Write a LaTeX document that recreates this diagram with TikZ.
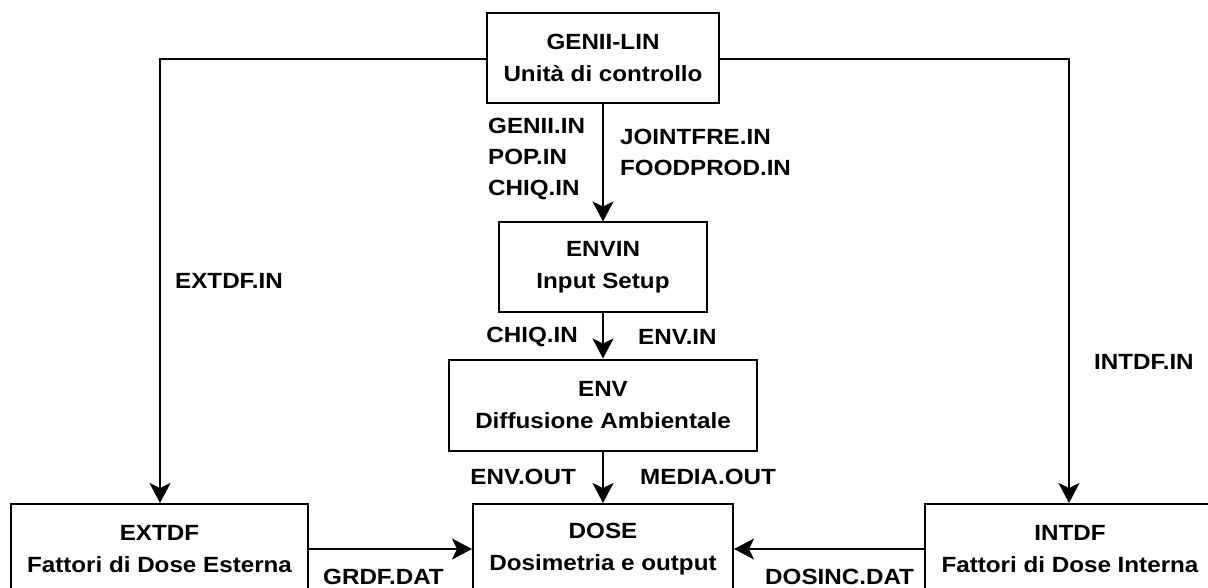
\documentclass[tikz,border=0pt]{standalone}
\usepackage{fontspec}
\setmainfont{Liberation Sans}[FakeStretch=1.1]
\usetikzlibrary{arrows.meta}
\begin{document}
\begin{tikzpicture}[x=1pt,y=-1pt,
  box/.style={draw, line width=2pt, rectangle, align=center, inner sep=0pt,
    font=\fontsize{22}{32}\selectfont\bfseries},
  lab/.style={inner sep=0pt, font=\fontsize{22}{31}\selectfont\bfseries},
  conn/.style={line width=2pt, -{Stealth[length=20pt,width=21pt,inset=5pt]}}]
\useasboundingbox (0,0) rectangle (1208,588);
\clip (0,0) rectangle (1208,588);
\fill[white] (0,0) rectangle (1208,588);
\node[box, minimum width=232pt, minimum height=90pt] (genii) at (603,58) {GENII-LIN\\Unità di controllo};
\node[box, minimum width=208pt, minimum height=89pt] (envin) at (603,267) {ENVIN\\Input Setup};
\node[box, minimum width=308pt, minimum height=91pt] (env) at (603,405) {ENV\\Diffusione Ambientale};
\node[box, minimum width=260pt, minimum height=90pt] (dose) at (603,549) {DOSE\\Dosimetria e output};
\node[box, minimum width=297pt, minimum height=90pt] (extdf) at (159.5,549) {EXTDF\\Fattori di Dose Esterna};
\node[box, minimum width=290pt, minimum height=90pt] (intdf) at (1070,549) {INTDF\\Fattori di Dose Interna};
\coordinate (cl) at (160,59);
\coordinate (cr) at (1069,59);
\draw[conn] (genii.west |- cl) -- (cl) -- (extdf.north -| cl);
\draw[conn] (genii.east |- cr) -- (cr) -- (intdf.north -| cr);
\draw[conn] (genii) -- (envin);
\draw[conn] (envin) -- (env);
\draw[conn] (env) -- (dose);
\draw[conn] (extdf.east) -- (dose.west);
\draw[conn] (intdf.west) -- (dose.east);
\node[lab, anchor=north west, align=left] (l1) at (488,118) {GENII.IN\\POP.IN\\CHIQ.IN};
\node[lab, anchor=north west, align=left] (l2) at (620,129) {JOINTFRE.IN\\FOODPROD.IN};
\node[lab, anchor=east] (l3) at (578,337) {CHIQ.IN};
\node[lab, anchor=west] (l4) at (638,337) {ENV.IN};
\node[lab, anchor=east] (l5) at (576,477) {ENV.OUT};
\node[lab, anchor=west] (l6) at (640,477) {MEDIA.OUT};
\node[lab, anchor=west] (l7) at (175,281) {EXTDF.IN};
\node[lab, anchor=west] (l8) at (1094,362) {INTDF.IN};
\node[lab, anchor=west] (l9) at (323,577) {GRDF.DAT};
\node[lab, anchor=west] (l10) at (765,577) {DOSINC.DAT};
\end{tikzpicture}
\end{document}
